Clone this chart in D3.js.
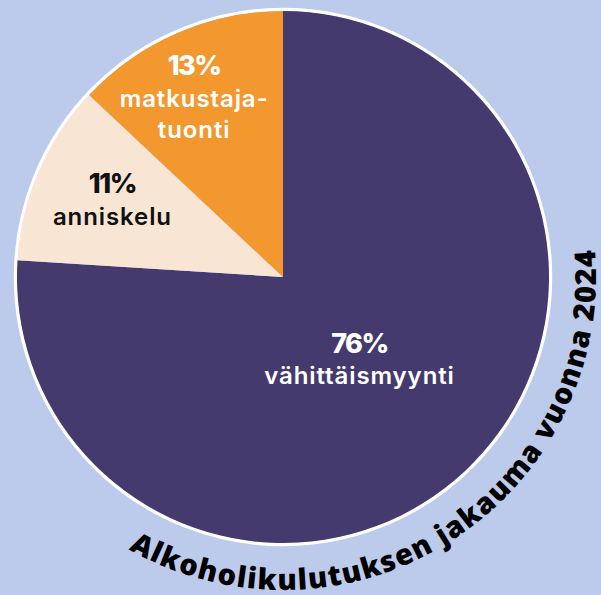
<!DOCTYPE html>
<html>
<head>
<meta charset="utf-8">
<script src="https://cdn.jsdelivr.net/npm/d3@7"></script>
<style>
  html, body { margin: 0; padding: 0; background: #bccbeb; }
  svg { display: block; }
</style>
</head>
<body>
<svg id="chart" width="601" height="595"></svg>
<script>
// ---- data ----
const categories = ["vähittäismyynti", "anniskelu", "matkustajatuonti"];
const labelLines = [["vähittäismyynti"], ["anniskelu"], ["matkustaja-", "tuonti"]];
const shares = [76, 11, 13];
const percentLabels = ["76%", "11%", "13%"];
const title = "Alkoholikulutuksen jakauma vuonna 2024";

// ---- layout ----
const W = 601, H = 595;
const cx = 283, cy = 277, R = 266;
const colors = ["#453a6e", "#f9e5d4", "#f3972f"];
const textColors = ["#ffffff", "#111111", "#ffffff"];
const labelRadius = [0.42, 0.705, 0.755];
const labelAngleNudge = [0, 0.02, -0.05];

const svg = d3.select("#chart");
svg.append("rect").attr("width", W).attr("height", H).attr("fill", "#bccbeb");

const g = svg.append("g").attr("transform", `translate(${cx},${cy})`);

const data = categories.map((c, i) => ({ c, v: shares[i], i }));
const pie = d3.pie().value(d => d.v).sort(null);
const arcs = pie(data);
const arc = d3.arc().innerRadius(0).outerRadius(R);

// white ring
g.append("circle").attr("r", R + 1.5).attr("fill", "none")
  .attr("stroke", "#ffffff").attr("stroke-width", 3.5);

g.selectAll("path.slice").data(arcs).join("path")
  .attr("class", "slice")
  .attr("d", arc)
  .attr("fill", d => colors[d.data.i]);

// labels
const lineH = 31.5;
arcs.forEach(a => {
  const i = a.data.i;
  const ang = (a.startAngle + a.endAngle) / 2 + labelAngleNudge[i];
  const r = R * labelRadius[i];
  const x = Math.sin(ang) * r;
  const y = -Math.cos(ang) * r;
  const lines = labelLines[i];
  const n = lines.length + 1;
  const first = y + 10 - (n - 1) * lineH / 2;
  g.append("text")
    .attr("text-anchor", "middle")
    .attr("fill", textColors[i])
    .attr("x", x).attr("y", first)
    .style("font-family", "Inter, 'Open Sans', sans-serif")
    .style("font-size", "27px").style("font-weight", 800)
    .style("letter-spacing", "-1.5px")
    .text(percentLabels[i]);
  lines.forEach((l, k) => {
    g.append("text")
      .attr("text-anchor", "middle")
      .attr("fill", textColors[i])
      .attr("x", x).attr("y", first + (k + 1) * lineH)
      .style("font-family", "Inter, 'Open Sans', sans-serif")
      .style("font-size", "24px").style("font-weight", 600)
      .style("letter-spacing", "0.9px")
      .text(l);
  });
});

// curved title
const TR = 313;
const mid = 57.3 * Math.PI / 180, half = 85 * Math.PI / 180;
const a0 = mid + half, a1 = mid - half;
const p0 = [cx + TR * Math.cos(a0), cy + TR * Math.sin(a0)];
const p1 = [cx + TR * Math.cos(a1), cy + TR * Math.sin(a1)];
svg.append("defs").append("path").attr("id", "titlePath")
  .attr("d", `M${p0[0]},${p0[1]} A${TR},${TR} 0 0 0 ${p1[0]},${p1[1]}`);
svg.append("text")
  .style("font-family", "'Open Sans', sans-serif")
  .style("font-size", "29px").style("font-weight", 800)
  .attr("fill", "#000")
  .append("textPath")
  .attr("href", "#titlePath")
  .attr("startOffset", "50%")
  .attr("text-anchor", "middle")
  .attr("textLength", 680)
  .attr("lengthAdjust", "spacing")
  .text(title);
</script>
</body>
</html>
